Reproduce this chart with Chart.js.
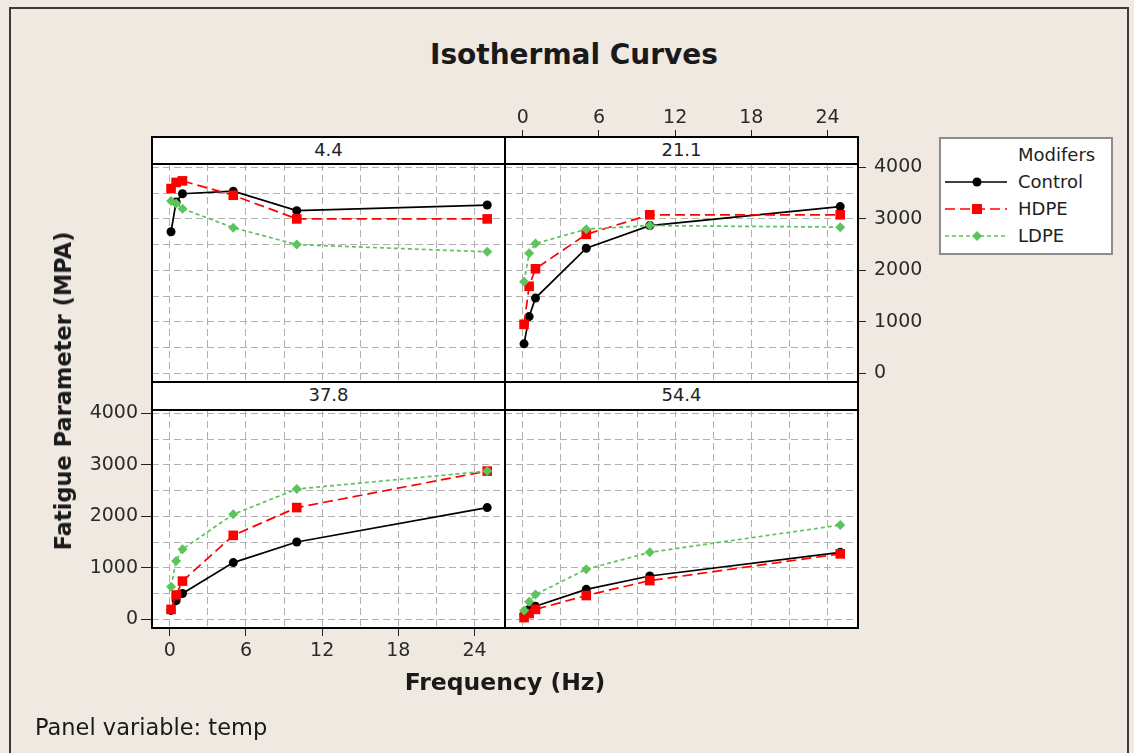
<!DOCTYPE html>
<html>
<head>
<meta charset="utf-8">
<script src="https://cdn.jsdelivr.net/npm/chart.js@4.4.1/dist/chart.umd.min.js"></script>
<style>
  html, body { margin: 0; padding: 0; background: #efe9e2; }
  body { width: 1134px; height: 753px; position: relative; overflow: hidden; font-family: 'DejaVu Sans', sans-serif; color: #1a1a1a; }
  .abs { position: absolute; }
  canvas.panel { position: absolute; left: 0; top: 0; }
  .frame { border: 2px solid #3a3a3a; box-sizing: border-box; }
  .plotbg { background: #fff; }
  .strip { background: #fff; border: 2px solid #000; box-sizing: border-box; text-align: center; font-size: 18px; line-height: 23px; color: #222; }
  .plotbox { border: 2px solid #000; box-sizing: border-box; }
  #legend { background: #fff; border: 2px solid #8c8c8c; box-sizing: border-box; font-size: 18px; color: #222; }
  #legend .row { position: absolute; left: 0; height: 24px; line-height: 24px; }
  #legend svg { position: absolute; left: 4px; top: 4px; }
  #legend span { position: absolute; left: 77px; white-space: nowrap; }
</style>
</head>
<body>
<div class="abs frame" style="left:9px;top:7px;width:1120px;height:760px;"></div>
<div class="abs" id="title" style="left:574px;top:38px;transform:translateX(-50%);font-size:28px;font-weight:bold;white-space:nowrap;">Isothermal Curves</div>
<div id="panels"></div>
<div class="abs" style="left:505px;top:668px;transform:translateX(-50%);font-size:23.5px;font-weight:bold;white-space:nowrap;">Frequency (Hz)</div>
<div class="abs" style="left:63px;top:391px;transform:translate(-50%,-50%) rotate(-90deg);font-size:22.5px;font-weight:bold;white-space:nowrap;">Fatigue Parameter (MPA)</div>
<div class="abs" style="left:35px;top:714px;font-size:22.5px;white-space:nowrap;">Panel variable: temp</div>
<div class="abs" id="legend" style="left:939px;top:137px;width:174px;height:118px;"></div>

<script>
// Frequencies (Hz) tested at each temperature
const freq = [0.1, 0.5, 1, 5, 10, 25];

// Temperature panels
const temps = ['4.4', '21.1', '37.8', '54.4'];

// Fatigue parameter (MPA) by modifier, one array per temperature
const control = {
  '4.4':  [2750, 3330, 3490, 3540, 3160, 3270],
  '21.1': [570, 1100, 1460, 2430, 2870, 3240],
  '37.8': [170, 360, 500, 1100, 1500, 2170],
  '54.4': [80, 190, 250, 580, 840, 1300],
};
const hdpe = {
  '4.4':  [3590, 3710, 3740, 3460, 3000, 3000],
  '21.1': [950, 1690, 2030, 2700, 3080, 3080],
  '37.8': [190, 470, 740, 1630, 2170, 2880],
  '54.4': [30, 110, 190, 460, 750, 1270],
};
const ldpe = {
  '4.4':  [3350, 3300, 3200, 2830, 2500, 2360],
  '21.1': [1780, 2330, 2520, 2800, 2870, 2840],
  '37.8': [630, 1130, 1360, 2040, 2530, 2880],
  '54.4': [170, 340, 480, 970, 1300, 1830],
};

const modifiers = ['Control', 'HDPE', 'LDPE'];
const values = [control, hdpe, ldpe];

// Gridline positions; only every other one gets a label
const xTicks = [0, 3, 6, 9, 12, 15, 18, 21, 24];
const xLabels = [0, 6, 12, 18, 24];
const yTicks = [0, 500, 1000, 1500, 2000, 2500, 3000, 3500, 4000];
const yLabels = [0, 1000, 2000, 3000, 4000];

const xMin = -1.4, xMax = 26.4;
const yMin = -172, yMax = 4068;

// Line styles per modifier
const styles = [
  { color: '#000000', dash: [], point: 'circle', radius: 4.5 },
  { color: '#ff0000', dash: [10, 5], point: 'rect', radius: 6.8 },
  { color: '#5cc45c', dash: [4, 3], point: 'rectRot', radius: 5 },
];

const GRID = '#b0b0b0';
const TICK = '#222';
const PAGE_W = 1134, PAGE_H = 753;

// Panel layout: columns and rows (strip on top of each plot)
const colLeft = [152, 505], colWidth = 353;
const stripTop = [137, 382], plotTop = [164, 410], plotBottom = [382, 628];
const AXIS = 64;

Chart.defaults.font.family = "'DejaVu Sans', sans-serif";
Chart.defaults.font.size = 19;
Chart.defaults.color = '#2a2a2a';

const panelsEl = document.getElementById('panels');

const addBox = (cls, left, top, width, height, text) => {
  const d = document.createElement('div');
  d.className = 'abs ' + cls;
  d.style.left = left + 'px';
  d.style.top = top + 'px';
  d.style.width = width + 'px';
  d.style.height = height + 'px';
  if (text) d.textContent = text;
  panelsEl.appendChild(d);
  return d;
};

const xScale = (labels, position) => ({
  type: 'linear',
  position,
  min: xMin,
  max: xMax,
  afterBuildTicks: (s) => { s.ticks = xTicks.map((v) => ({ value: v })); },
  ticks: {
    display: labels,
    autoSkip: false,
    maxRotation: 0,
    padding: position === 'top' ? 1 : 4,
    callback: (v) => (xLabels.includes(v) ? v : ''),
  },
  grid: {
    color: GRID,
    lineWidth: 1,
    drawTicks: labels,
    tickLength: position === 'top' ? 34 : 8,
    tickWidth: 1,
    tickColor: (ctx) => (ctx.tick && xLabels.includes(ctx.tick.value) ? TICK : 'rgba(0,0,0,0)'),
  },
  border: { display: false, dash: [7, 4] },
  afterFit: (s) => { s.height = labels ? AXIS : 0; },
});

const yScale = (labels, position) => ({
  type: 'linear',
  position,
  min: yMin,
  max: yMax,
  afterBuildTicks: (s) => { s.ticks = yTicks.map((v) => ({ value: v })); },
  ticks: {
    display: labels,
    autoSkip: false,
    padding: position === 'right' ? 8 : 3,
    callback: (v) => (yLabels.includes(v) ? v : ''),
  },
  grid: {
    color: GRID,
    lineWidth: 1,
    drawTicks: labels,
    tickLength: position === 'right' ? 8 : 11,
    tickWidth: 1,
    tickColor: (ctx) => (ctx.tick && yLabels.includes(ctx.tick.value) ? TICK : 'rgba(0,0,0,0)'),
  },
  border: { display: false, dash: [7, 4] },
  afterFit: (s) => { s.width = labels ? AXIS : 0; },
});

// Which panel carries which axis labels (they alternate around the grid)
const axesFor = [
  { x: [false, 'bottom'], y: [false, 'left'] },   // 4.4
  { x: [true, 'top'], y: [true, 'right'] },       // 21.1
  { x: [true, 'bottom'], y: [true, 'left'] },     // 37.8
  { x: [false, 'bottom'], y: [false, 'right'] },  // 54.4
];

temps.forEach((temp, i) => {
  const col = i % 2, row = Math.floor(i / 2);
  const left = colLeft[col], right = left + colWidth;
  const top = plotTop[row], bottom = plotBottom[row];
  const ax = axesFor[i];

  addBox('plotbg', left, top, colWidth, bottom - top);

  const canvas = document.createElement('canvas');
  canvas.className = 'panel';
  canvas.width = PAGE_W;
  canvas.height = PAGE_H;
  panelsEl.appendChild(canvas);

  // Padding puts the chart area exactly on the panel; axis boxes sit inside it
  const padding = {
    left: left - (ax.y[0] && ax.y[1] === 'left' ? AXIS : 0),
    right: PAGE_W - right - (ax.y[0] && ax.y[1] === 'right' ? AXIS : 0),
    top: top - (ax.x[0] && ax.x[1] === 'top' ? AXIS : 0),
    bottom: PAGE_H - bottom - (ax.x[0] && ax.x[1] === 'bottom' ? AXIS : 0),
  };

  new Chart(canvas, {
    type: 'line',
    data: {
      datasets: modifiers.map((name, k) => ({
        label: name,
        data: freq.map((f, j) => ({ x: f, y: values[k][temp][j] })),
        borderColor: styles[k].color,
        backgroundColor: styles[k].color,
        borderWidth: 1.7,
        borderDash: styles[k].dash,
        pointStyle: styles[k].point,
        pointRadius: styles[k].radius,
        pointBorderWidth: 0,
        tension: 0,
        order: 3 - k,
      })),
    },
    options: {
      responsive: false,
      animation: false,
      events: [],
      layout: { autoPadding: false, padding },
      plugins: { legend: { display: false }, tooltip: { enabled: false } },
      scales: {
        x: xScale(ax.x[0], ax.x[1]),
        y: yScale(ax.y[0], ax.y[1]),
      },
    },
  });

  addBox('strip', left - 1, stripTop[row] - 1, colWidth + 2, top - stripTop[row] + 2, temp);
  addBox('plotbox', left - 1, top - 1, colWidth + 2, bottom - top + 2);
});

// Legend
const legend = document.getElementById('legend');
const head = document.createElement('div');
head.className = 'row';
head.style.top = '4px';
head.innerHTML = '<span>Modifers</span>';
legend.appendChild(head);
modifiers.forEach((name, k) => {
  const st = styles[k];
  const row = document.createElement('div');
  row.className = 'row';
  row.style.top = (31 + k * 27) + 'px';
  const cy = 8;
  let marker;
  if (st.point === 'circle') marker = `<circle cx="32" cy="${cy}" r="4.5" fill="${st.color}"/>`;
  else if (st.point === 'rect') marker = `<rect x="27" y="${cy - 5}" width="10" height="10" fill="${st.color}"/>`;
  else marker = `<polygon points="27,${cy} 32,${cy - 5} 37,${cy} 32,${cy + 5}" fill="${st.color}"/>`;
  row.innerHTML = `<svg width="66" height="16"><line x1="0" y1="${cy}" x2="62" y2="${cy}" stroke="${st.color}" stroke-width="1.7" stroke-dasharray="${st.dash.join(' ')}"/>${marker}</svg><span>${name}</span>`;
  legend.appendChild(row);
});
</script>
</body>
</html>
